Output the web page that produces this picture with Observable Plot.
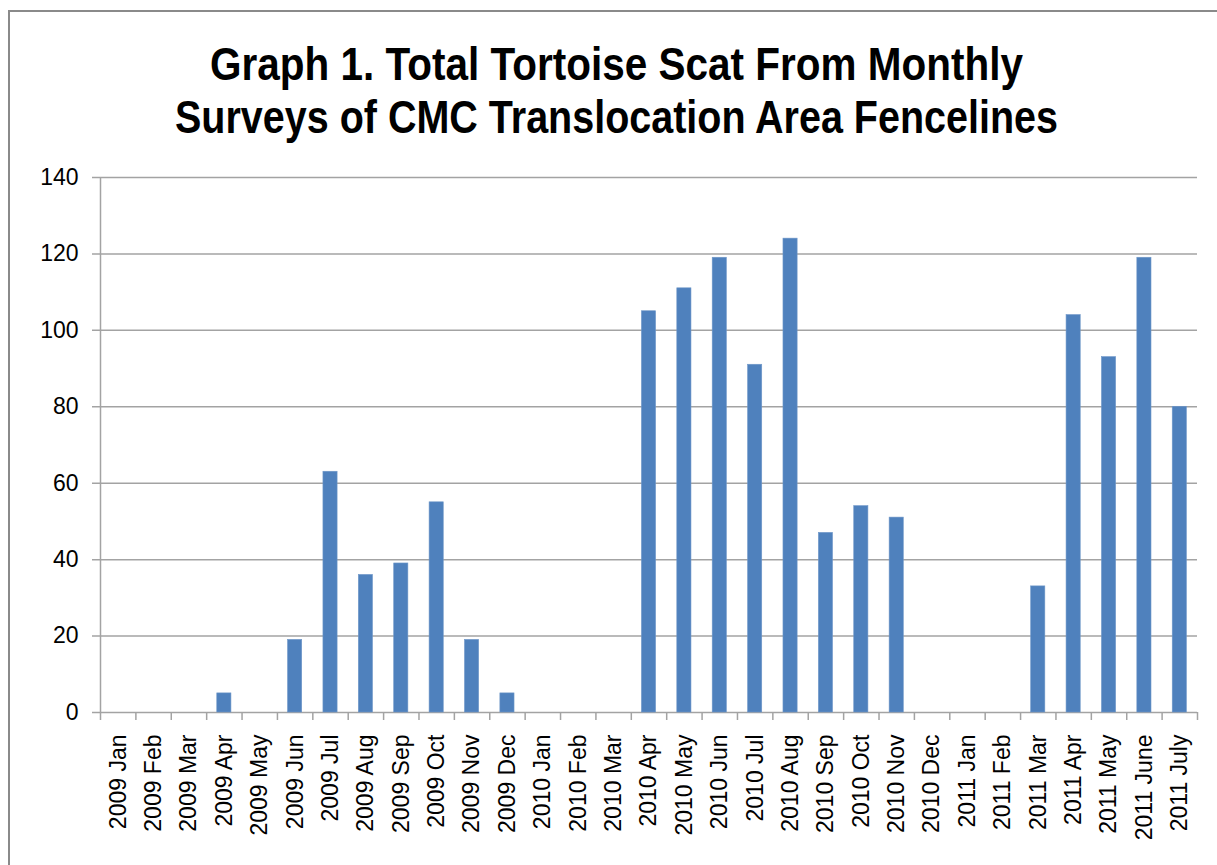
<!DOCTYPE html>
<html>
<head>
<meta charset="utf-8">
<script src="https://cdn.jsdelivr.net/npm/d3@7"></script>
<script src="https://cdn.jsdelivr.net/npm/@observablehq/plot@0.6"></script>
<style>
  html, body { margin: 0; padding: 0; background: #fff; overflow: hidden; width: 1217px; height: 865px; }
  #frame { position: absolute; left: 8px; top: 10px; width: 1400px; height: 1000px; border: 2px solid #8a8a8a; box-sizing: border-box; }
  #title { position: absolute; left: 0; top: 0; }
  #chart { position: absolute; left: 0; top: 160px; }
  #title text { font-family: "Liberation Sans Narrow", "Liberation Sans", Arial, sans-serif; font-weight: bold; fill: #000; }
</style>
</head>
<body>
<div id="frame"></div>
<svg id="title" width="1217" height="160">
  <text x="616.5" y="80" text-anchor="middle" font-size="46" textLength="813" lengthAdjust="spacingAndGlyphs">Graph 1. Total Tortoise Scat From Monthly</text>
  <text x="616.5" y="133" text-anchor="middle" font-size="46" textLength="883" lengthAdjust="spacingAndGlyphs">Surveys of CMC Translocation Area Fencelines</text>
</svg>
<div id="chart"></div>
<script>
const categories = [
  "2009 Jan","2009 Feb","2009 Mar","2009 Apr","2009 May","2009 Jun","2009 Jul","2009 Aug","2009 Sep","2009 Oct","2009 Nov","2009 Dec",
  "2010 Jan","2010 Feb","2010 Mar","2010 Apr","2010 May","2010 Jun","2010 Jul","2010 Aug","2010 Sep","2010 Oct","2010 Nov","2010 Dec",
  "2011 Jan","2011 Feb","2011 Mar","2011 Apr","2011 May","2011 June","2011 July"
];
const values = [
  0,0,0,5,0,19,63,36,39,55,19,5,
  0,0,0,105,111,119,91,124,47,54,51,0,
  0,0,33,104,93,119,80
];
const yTicks = [0,20,40,60,80,100,120,140];

const data = categories.map((c, i) => ({month: c, value: values[i]}));

const W = 1217, H = 705;
const mL = 100, mR = 20, mT = 17, mB = 153;
const step = (W - mL - mR) / categories.length;
const plotH = H - mT - mB;
const gridColor = "#a3a3a3";

const chart = Plot.plot({
  width: W,
  height: H,
  marginLeft: mL,
  marginRight: mR,
  marginTop: mT,
  marginBottom: mB,
  style: {fontFamily: "'Liberation Sans', Arial, sans-serif", fontSize: "23px", color: "#000", background: "transparent", overflow: "visible"},
  x: {type: "band", domain: categories, paddingInner: 0.6, paddingOuter: 0.3, round: false, label: null, tickSize: 0, tickRotate: -90, tickPadding: 22},
  y: {domain: [0, 140], ticks: yTicks, tickSize: 0, tickPadding: 22, label: null},
  marks: [
    Plot.ruleY(yTicks, {y: d => d, stroke: gridColor, strokeWidth: 1.5, insetLeft: -8}),
    Plot.ruleX([categories[0]], {x: d => d, dx: -step / 2, stroke: gridColor, strokeWidth: 1.5}),
    Plot.ruleX(categories, {x: d => d, dx: -step / 2, stroke: gridColor, strokeWidth: 1.5, insetTop: plotH, insetBottom: -8}),
    Plot.ruleX([categories[categories.length - 1]], {x: d => d, dx: step / 2, stroke: gridColor, strokeWidth: 1.5, insetTop: plotH, insetBottom: -8}),
    Plot.barY(data, {x: "month", y: "value", fill: "#4f81bd", stroke: "#6f97c8", strokeWidth: 0.6})
  ]
});
document.getElementById("chart").appendChild(chart);
</script>
</body>
</html>
